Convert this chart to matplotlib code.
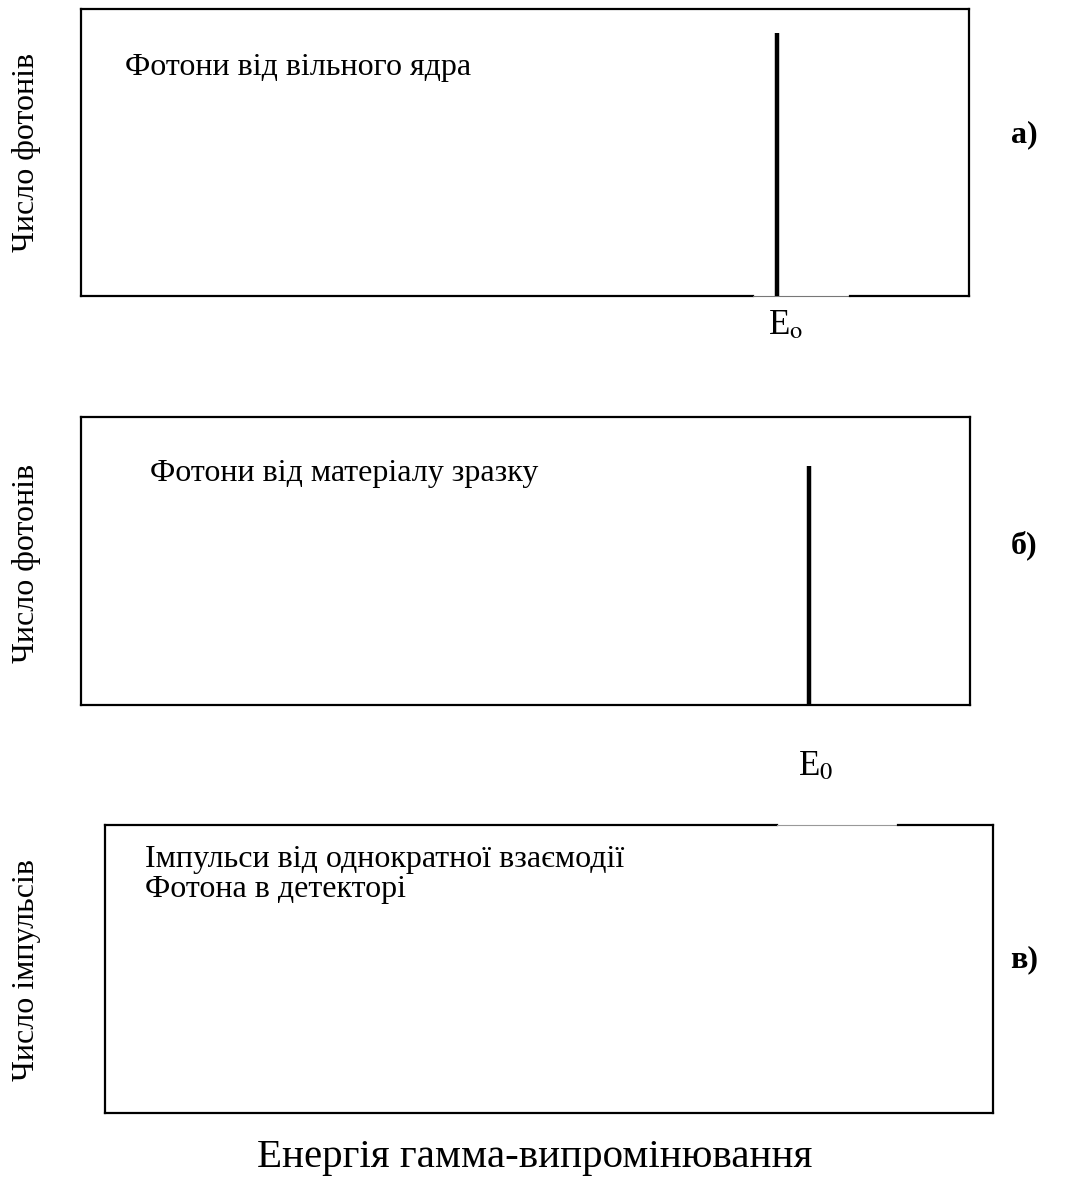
import matplotlib
matplotlib.use("Agg")
import matplotlib.pyplot as plt

# energy axis is normalised 0..1 across each panel, intensity 0..1
peak_energy = [0.784, 0.819]
peak_height = [0.916, 0.83]
panel_titles = [
    ["Фотони від вільного ядра"],
    ["Фотони від матеріалу зразку"],
    ["Імпульси від однократної взаємодії", "Фотона в детекторі"],
]
ylabels = ["Число фотонів", "Число фотонів", "Число імпульсів"]
panel_tags = ["а)", "б)", "в)"]
e0_labels = [r"E$_{\mathrm{o}}$", r"E$_{0}$"]
xlabel = "Енергія гамма-випромінювання"

W, H = 1071, 1189
plt.rcParams["font.family"] = ["Liberation Serif", "DejaVu Serif"]
plt.rcParams["mathtext.fontset"] = "stix"
fig = plt.figure(figsize=(W / 100, H / 100), dpi=100)


def px_axes(left, top, right, bottom):
    return fig.add_axes([left / W, 1 - bottom / H, (right - left) / W, (bottom - top) / H])


def ftext(x, y, s, **kw):
    fig.text(x / W, 1 - y / H, s, **kw)


boxes = [(81, 9, 969, 296), (81, 417, 970, 705), (105, 825, 993, 1113)]
axes = []
for (l, t, r, b) in boxes:
    ax = px_axes(l, t, r, b)
    ax.set_xlim(0, 1)
    ax.set_ylim(0, 1)
    ax.set_xticks([])
    ax.set_yticks([])
    for sp in ax.spines.values():
        sp.set_linewidth(1.6)
        sp.set_color("black")
    axes.append(ax)

# spectral lines
for ax, e, h in zip(axes[:2], peak_energy, peak_height):
    ax.vlines(e, 0, h, color="black", linewidth=3.2, zorder=3)

# breaks in the frames (thin grey bridging line)
axes[0].spines["bottom"].set_visible(False)
axes[0].plot([0, 0.757], [0, 0], color="black", lw=1.6, clip_on=False, transform=axes[0].transAxes)
axes[0].plot([0.757, 0.866], [0, 0], color="#777777", lw=0.8, clip_on=False, transform=axes[0].transAxes)
axes[0].plot([0.866, 1], [0, 0], color="black", lw=1.6, clip_on=False, transform=axes[0].transAxes)

axes[2].spines["top"].set_visible(False)
axes[2].plot([0, 0.757], [1, 1], color="black", lw=1.6, clip_on=False, transform=axes[2].transAxes)
axes[2].plot([0.757, 0.893], [1, 1], color="#999999", lw=0.8, clip_on=False, transform=axes[2].transAxes)
axes[2].plot([0.893, 1], [1, 1], color="black", lw=1.6, clip_on=False, transform=axes[2].transAxes)

# panel captions
title_pos = [(125, 68), (150, 474), (145, 859)]
for (x, y), lines in zip(title_pos, panel_titles):
    for i, s in enumerate(lines):
        ftext(x, y + 30 * i, s, fontsize=23, va="center", ha="left")

# y labels
for y, s in zip([152, 563, 970], ylabels):
    ftext(27, y, s, fontsize=23, rotation=90, va="center", ha="center")

# panel tags
for y, s in zip([135, 545, 960], panel_tags):
    ftext(1024, y, s, fontsize=23, fontweight="bold", va="center", ha="center")

# E0 labels
ftext(786, 326, e0_labels[0], fontsize=25, va="center", ha="center")
ftext(816, 767, e0_labels[1], fontsize=25, va="center", ha="center")

ftext(535, 1157, xlabel, fontsize=29.5, va="center", ha="center")

fig.savefig("out.png", dpi=100, facecolor="white")
